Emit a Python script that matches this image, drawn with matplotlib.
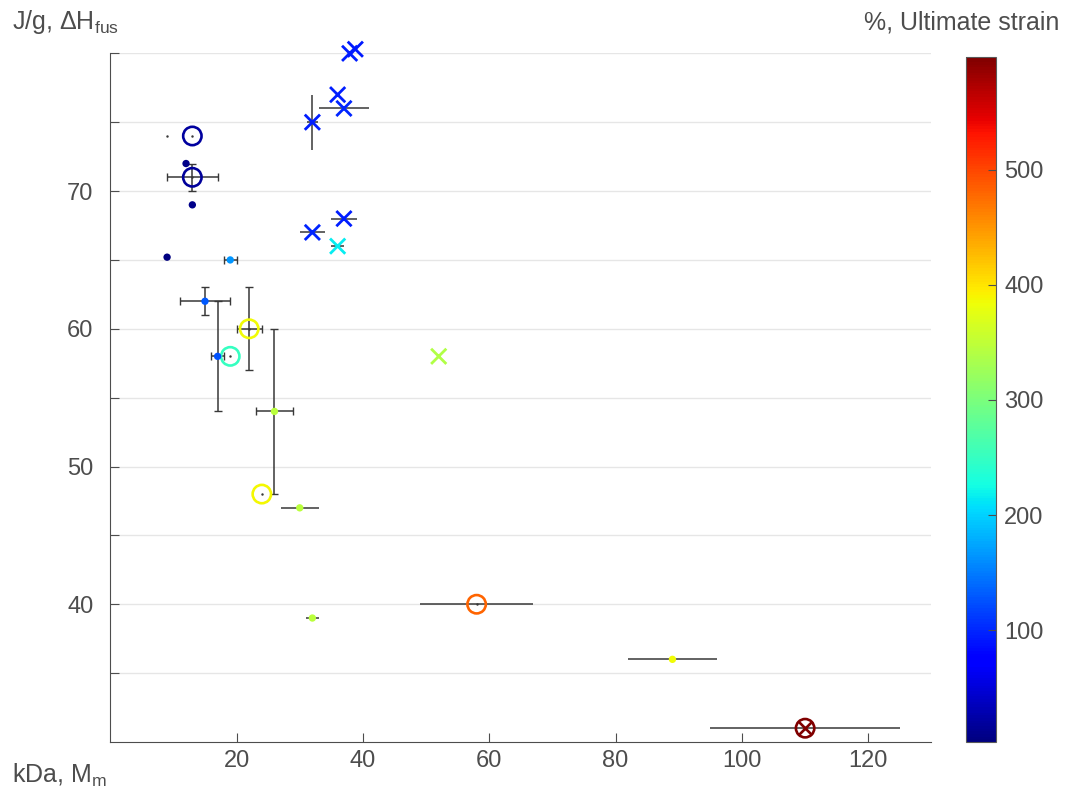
import matplotlib
matplotlib.use("Agg")
import matplotlib.pyplot as plt
from matplotlib.colors import Normalize
from matplotlib.cm import ScalarMappable

plt.rcParams["font.family"] = ["Liberation Sans", "DejaVu Sans"]
plt.rcParams["mathtext.fontset"] = "custom"
plt.rcParams["mathtext.rm"] = "Liberation Sans"
plt.rcParams["mathtext.it"] = "Liberation Sans:italic"

# molar mass (kDa), enthalpy of fusion (J/g), ultimate strain (%), error half-widths
cross_mm = [37.9, 38.8, 36, 37, 32, 32, 37, 36, 52]
cross_dh = [80.0, 80.3, 77, 76, 75, 67, 68, 66, 58]
cross_strain = [95, 92, 95, 100, 95, 100, 95, 215, 340]
cross_xerr = [0, 0, 0, 4, 0.9, 2, 2, 1, 0]
cross_yerr = [0, 0, 0, 0, 2, 0, 0, 0, 0]

ring_mm = [13, 13, 19, 22, 24, 58, 110]
ring_dh = [74, 71, 58, 60, 48, 40, 31]
ring_strain = [20, 18, 250, 385, 388, 480, 598]
ring_xerr = [0, 4, 0, 2, 0, 9, 15]
ring_yerr = [0, 1, 0, 3, 0, 0, 0]

dot_mm = [12, 13, 9, 19, 15, 17, 26, 30, 32, 89]
dot_dh = [72, 69, 65.2, 65, 62, 58, 54, 47, 39, 36]
dot_strain = [8, 8, 5, 165, 130, 125, 345, 345, 345, 385]
dot_xerr = [0, 0, 0, 1, 4, 1, 3, 3, 1, 7]
dot_yerr = [0, 0, 0, 0, 1, 4, 6, 0, 0, 0]

# sample with no strain value: only its error-bar point is drawn
bare_mm = [9]
bare_dh = [74]

# the highest-strain sample is also flagged with a cross
flag_mm = [110]
flag_dh = [31]
flag_strain = [598]

strain_min, strain_max = 3, 598

cmap = plt.get_cmap("jet")
norm = Normalize(vmin=strain_min, vmax=strain_max)

fig = plt.figure(figsize=(10.65, 7.95), dpi=100)
ax = fig.add_axes([0.1035, 0.0667, 0.7711, 0.8662])


def draw_errorbars(xs, ys, xerrs, yerrs, capped=True):
    # zero-width errors draw no bar, only the small centre point;
    # caps only on the low-mass samples
    for x, y, xe, ye in zip(xs, ys, xerrs, yerrs):
        cap = 3 if (capped and x < 28) else 0
        ax.errorbar(x, y, xerr=xe or None, yerr=ye or None, fmt=".", color="0.22",
                    ms=1.5, elinewidth=1.1, capsize=cap, capthick=1, zorder=2,
                    clip_on=False)


draw_errorbars(cross_mm, cross_dh, cross_xerr, cross_yerr, capped=False)
draw_errorbars(ring_mm, ring_dh, ring_xerr, ring_yerr)
draw_errorbars(dot_mm, dot_dh, dot_xerr, dot_yerr)
draw_errorbars(bare_mm, bare_dh, [0], [0])

ax.scatter(cross_mm, cross_dh, s=120, marker="x", c=cmap(norm(cross_strain)),
           linewidths=2.0, zorder=3, clip_on=False)
ax.scatter(ring_mm, ring_dh, s=175, marker="o", facecolors="none",
           edgecolors=cmap(norm(ring_strain)), linewidths=1.9, zorder=3)
ax.scatter(dot_mm, dot_dh, s=28, marker="o", c=cmap(norm(dot_strain)),
           linewidths=0, zorder=3)
ax.scatter(flag_mm, flag_dh, s=95, marker="x", c=cmap(norm(flag_strain)),
           linewidths=1.9, zorder=4)

ax.set_xlim(0, 130)
ax.set_ylim(30, 80)
ax.set_xticks([20, 40, 60, 80, 100, 120])
ax.set_yticks([35, 40, 45, 50, 55, 60, 65, 70, 75, 80])
ax.set_yticklabels(["", "40", "", "50", "", "60", "", "70", "", ""])
ax.grid(axis="y", color="0.9", linewidth=1)
ax.set_axisbelow(True)

for side in ("top", "right"):
    ax.spines[side].set_visible(False)
for side in ("left", "bottom"):
    ax.spines[side].set_color("0.3")
ax.tick_params(direction="in", length=6.5, width=0.8, color="0.3",
               labelcolor="0.3", labelsize=17)
ax.tick_params(axis="x", pad=6)
ax.tick_params(axis="y", pad=12)

cax = fig.add_axes([0.907, 0.0667, 0.028, 0.862])
cb = fig.colorbar(ScalarMappable(norm=norm, cmap=cmap), cax=cax)
cb.set_ticks([100, 200, 300, 400, 500])
cb.outline.set_edgecolor("0.35")
cax.tick_params(direction="in", length=6, width=0.8, color="0.3",
                labelcolor="0.3", labelsize=17, pad=6)

fig.text(0.011, 0.972, r"J/g, $\Delta\mathrm{H}_{\mathrm{fus}}$", fontsize=18,
         color="0.3", ha="left", va="center")
fig.text(0.011, 0.025, r"kDa, $\mathrm{M}_{\mathrm{m}}$", fontsize=18,
         color="0.3", ha="left", va="center")
fig.text(0.995, 0.972, "%, Ultimate strain", fontsize=18, color="0.3",
         ha="right", va="center")

fig.savefig("out.png", dpi=100)
plt.close(fig)
